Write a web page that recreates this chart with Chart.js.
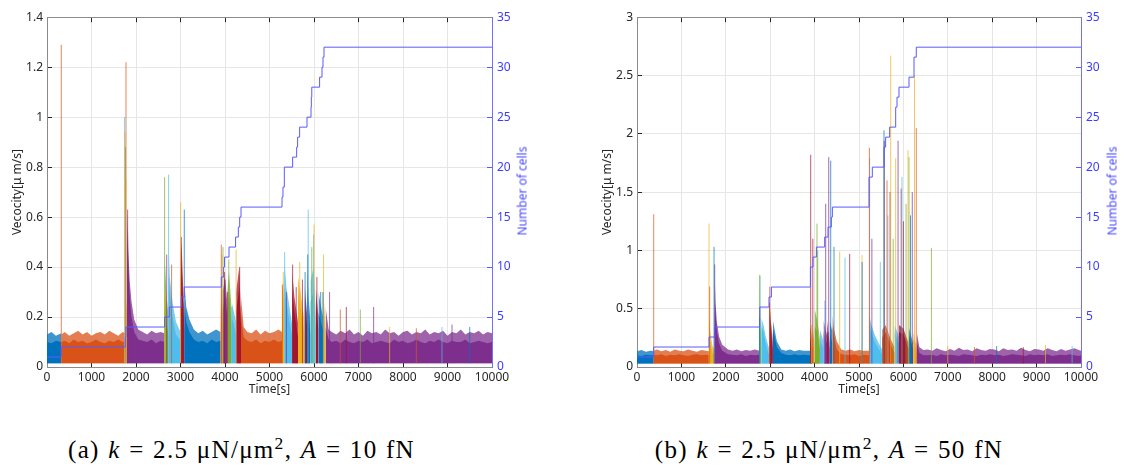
<!DOCTYPE html>
<html>
<head>
<meta charset="utf-8">
<script src="https://cdn.jsdelivr.net/npm/chart.js@4.4.1/dist/chart.umd.min.js"></script>
<style>
  body { margin: 0; background: #fff; width: 1121px; height: 468px; overflow: hidden; position: relative; font-family: "Noto Sans", sans-serif; }
  canvas { position: absolute; top: 0; }
  #chartA { left: 0; }
  #chartB { left: 590px; }
  .rtitle { position: absolute; color: #4a4aff; font-size: 12px; white-space: nowrap; transform: translate(-50%, -50%) rotate(-90deg); }
  .cap { position: absolute; top: 437px; width: 483px; text-align: center; font-family: "Liberation Serif", serif; font-size: 25px; line-height: 25px; letter-spacing: 1.3px; word-spacing: 1px; color: #000; white-space: nowrap; }
  .cap sup { font-size: 0.7em; line-height: 0; vertical-align: 0.5em; }
</style>
</head>
<body>
<canvas id="chartA" width="532" height="400"></canvas>
<canvas id="chartB" width="531" height="400"></canvas>
<div class="rtitle" style="left:521.5px;top:191px">Number of cells</div>
<div class="rtitle" style="left:1111.5px;top:191px">Number of cells</div>
<div class="cap" style="left:0">(a) <i>k</i> = 2.5 μN/μm<sup>2</sup>, <i>A</i> = 10 fN</div>
<div class="cap" style="left:587.5px">(b) <i>k</i> = 2.5 μN/μm<sup>2</sup>, <i>A</i> = 50 fN</div>
<script>
// matlab default line colours, one per cell series
const seriesColors = ["#0072BD", "#D95319", "#EDB120", "#7E2F8E", "#77AC30", "#4DBEEE", "#A2142F"];

// ---------- (a) A = 10 fN ----------
const cellsTimeA = [0, 321, 1760, 1775, 2643, 2748, 3018, 3085, 3917, 3970,
  3990, 4090, 4238, 4300, 4330, 4360, 5281, 5303, 5333, 5520,
  5610, 5632, 5677, 5843, 5933, 5940, 5950, 6126, 6180, 6202,
  6225, 10000];
const cellsCountA = [1, 2, 3, 4, 5, 6, 7, 8, 9, 10,
  11, 12, 13, 14, 15, 16, 17, 18, 20, 21,
  22, 23, 24, 25, 26, 27, 28, 29, 30, 31,
  32, 32];

// noise band: a repeated time starts a new colour segment
const bandTimeA = [0, 100, 200, 321,
  321, 400, 500, 600, 700, 800, 900, 1000, 1100, 1200, 1300, 1400, 1500, 1600, 1700, 1760,
  1760, 1795,
  1795, 1812, 1830, 1860, 1900, 1960, 2050, 2150, 2250, 2350, 2450, 2550, 2640,
  2640, 2690, 2730,
  2730, 2760, 2820, 2900, 3000,
  3000, 3025, 3060, 3090,
  3090, 3130, 3200, 3300, 3400, 3500, 3600, 3700, 3800, 3900,
  3900, 3925, 3950,
  3950, 4000, 4050,
  4050, 4090, 4150,
  4150, 4200, 4250,
  4250, 4320, 4360,
  4360, 4420, 4500, 4600, 4700, 4800, 4900, 5000, 5100, 5200, 5281,
  5281, 5310, 5335,
  5335, 5380, 5450, 5510,
  5510, 5560, 5640,
  5640, 5700, 5790,
  5790, 5850,
  5850, 5880, 5920,
  5920, 5990, 6040,
  6040, 6100,
  6100, 6200,
  6200, 6260,
  6260, 6330, 6400, 6500, 6600, 6700, 6800, 6900, 7000, 7100, 7200, 7300, 7400, 7500,
  7600, 7700, 7800, 7900, 8000, 8100, 8200, 8300, 8400, 8500, 8600, 8700, 8800, 8900,
  9000, 9100, 9200, 9300, 9400, 9500, 9600, 9700, 9800, 9900, 10000];
const bandSolidA = [.1, .095, .105, .1,
  .1, .105, .095, .11, .1, .105, .095, .1, .11, .1, .095, .105, .1, .11, .1, .105,
  .12, .11,
  .3, .55, .4, .28, .2, .14, .11, .105, .1, .11, .095, .105, .1,
  .3, .18, .12,
  .38, .3, .2, .13, .105,
  .3, .42, .25, .15,
  .25, .18, .14, .11, .1, .105, .095, .11, .1, .105,
  .12, .28, .15,
  .22, .3, .2,
  .22, .3, .17,
  .2, .17, .13,
  .22, .32, .15,
  .2, .12, .105, .1, .11, .095, .105, .1, .11, .1, .105,
  .2, .28, .15,
  .32, .26, .18, .12,
  .3, .22, .12,
  .3, .24, .13,
  .28, .15,
  .32, .22, .13,
  .26, .3, .15,
  .26, .15,
  .22, .15,
  .26, .12,
  .16, .11, .1, .105, .095, .11, .1, .095, .105, .1, .11, .095, .1, .105,
  .1, .095, .11, .1, .105, .095, .1, .11, .1, .095, .105, .1, .11, .1,
  .095, .105, .1, .1, .11, .095, .1, .105, .1, .095, .1];
const bandTopA = [.13, .14, .125, .135,
  .13, .14, .125, .135, .145, .13, .14, .125, .135, .14, .13, .145, .135, .125, .14, .135,
  .3, .22,
  .45, .62, .46, .34, .26, .19, .15, .14, .13, .145, .135, .14, .135,
  .45, .28, .2,
  .48, .36, .26, .18, .14,
  .42, .5, .32, .2,
  .33, .24, .19, .15, .135, .145, .13, .14, .15, .14,
  .2, .36, .22,
  .3, .36, .26,
  .3, .38, .23,
  .26, .22, .18,
  .3, .4, .2,
  .28, .16, .14, .135, .15, .13, .145, .135, .14, .15, .14,
  .3, .34, .22,
  .42, .32, .24, .17,
  .38, .28, .18,
  .36, .3, .18,
  .33, .2,
  .4, .28, .18,
  .34, .4, .2,
  .32, .2,
  .3, .2,
  .32, .17,
  .24, .15, .14, .13, .145, .135, .15, .13, .14, .125, .145, .135, .14, .13,
  .15, .135, .14, .125, .14, .145, .13, .14, .135, .15, .13, .14, .135, .145,
  .125, .14, .135, .15, .13, .14, .135, .145, .13, .14, .135];
const bandSegSeriesA = [0, 1, 2, 3, 4, 5, 6, 0, 1, 3, 4, 5, 6, 1, 2, 5, 6, 2, 6, 0, 5, 6, 0, 2, 3];
const bandFloorA = 0.015;

const spikeTimeA = [321, 1740, 1750, 1765, 1770, 1775, 1812, 2643, 2655, 2690,
  2733, 2800, 3003, 3018, 3085, 3917, 3935, 3955, 3990, 4000,
  4060, 4085, 4150, 4250, 4330, 5290, 5310, 5340, 5380, 5520,
  5600, 5680, 5740, 5800, 5860, 5870, 5950, 5990, 6000, 6065,
  6150, 6200, 6215, 6350, 6591, 6726, 7041, 7340, 7700, 8300,
  8876, 9101, 9500];
const spikePeakA = [1.29, 1.0, 0.94, 0.88, 0.75, 1.22, 0.63, 0.76, 0.30, 0.45,
  0.77, 0.41, 0.66, 0.52, 0.63, 0.49, 0.45, 0.48, 0.38, 0.35,
  0.30, 0.43, 0.24, 0.47, 0.40, 0.33, 0.38, 0.46, 0.30, 0.41,
  0.32, 0.42, 0.35, 0.38, 0.45, 0.63, 0.48, 0.53, 0.57, 0.36,
  0.30, 0.30, 0.45, 0.30, 0.23, 0.24, 0.23, 0.24, 0.16, 0.155,
  0.16, 0.17, 0.16];
const spikeSeriesA = [1, 5, 2, 4, 2, 1, 3, 4, 2, 3,
  5, 1, 2, 6, 0, 1, 2, 4, 6, 3,
  6, 4, 5, 2, 6, 1, 2, 5, 3, 6,
  6, 2, 6, 0, 0, 5, 4, 5, 2, 6,
  0, 0, 2, 3, 1, 6, 4, 3, 2, 1,
  5, 3, 0];

// ---------- (b) A = 50 fN ----------
const cellsTimeB = [0, 376, 1622, 1750, 2764, 2973, 3027, 3905, 3964, 4040,
  4227, 4302, 4377, 4400, 5225, 5300, 5563, 5600, 5690, 5826,
  5856, 5901, 6126, 6239, 6290, 10000];
const cellsCountB = [1, 2, 3, 4, 6, 7, 8, 10, 11, 12,
  13, 14, 15, 16, 19, 20, 22, 23, 24, 26,
  27, 28, 29, 31, 32, 32];

const bandTimeB = [0, 100, 200, 300, 376,
  376, 450, 550, 650, 750, 850, 950, 1050, 1150, 1250, 1350, 1450, 1550, 1622,
  1622, 1650, 1700, 1750,
  1750, 1770, 1800, 1850, 1920, 2050, 2150, 2250, 2350, 2450, 2550, 2650, 2760,
  2760, 2780, 2800,
  2800, 2850, 2900, 2960, 2985,
  2985, 3020, 3060,
  3060, 3100, 3150, 3250, 3350, 3450, 3550, 3650, 3750, 3900,
  3900, 3950,
  3950, 4000,
  4000, 4060, 4120,
  4120, 4200,
  4200, 4280,
  4280, 4340,
  4340, 4400,
  4400, 4440, 4500, 4600, 4700, 4800, 4900, 5000, 5100, 5225,
  5225, 5280, 5350, 5450, 5520,
  5520, 5600, 5700, 5800,
  5800, 5900,
  5900, 6000, 6120,
  6120, 6220,
  6220, 6300,
  6300, 6360, 6450, 6550, 6650, 6750, 6850, 6950, 7050, 7150, 7250, 7350, 7450, 7550,
  7650, 7750, 7850, 7950, 8050, 8150, 8250, 8350, 8450, 8550, 8650, 8750, 8850, 8950,
  9050, 9150, 9250, 9350, 9450, 9550, 9650, 9750, 9850, 9950, 10000];
const bandSolidB = [.1, .095, .105, .1, .1,
  .105, .1, .11, .095, .105, .1, .11, .1, .095, .105, .11, .1, .105, .1,
  .3, .2, .12, .1,
  .6, .45, .3, .2, .14, .11, .105, .1, .11, .095, .105, .1, .105,
  .5, .3, .15,
  .35, .3, .2, .12, .105,
  .45, .3, .15,
  .33, .26, .17, .12, .105, .1, .11, .1, .105, .1,
  .25, .15,
  .3, .13,
  .35, .3, .15,
  .24, .15,
  .3, .2,
  .3, .15,
  .3, .2,
  .35, .25, .15, .11, .105, .1, .11, .095, .105, .1,
  .35, .3, .22, .15, .11,
  .25, .3, .2, .12,
  .3, .2,
  .3, .28, .15,
  .28, .15,
  .25, .12,
  .22, .12, .1, .1, .105, .095, .11, .1, .105, .1, .095, .11, .105, .1, .095,
  .105, .1, .11, .1, .105, .095, .1, .11, .105, .1, .095, .11, .1, .105, .1,
  .11, .095, .1, .105, .1, .11, .1, .095, .1];
const bandTopB = [.135, .145, .13, .14, .135,
  .14, .15, .135, .145, .13, .15, .14, .135, .15, .14, .13, .145, .14, .135,
  .45, .3, .18, .14,
  .8, .55, .38, .26, .19, .15, .14, .15, .135, .145, .14, .15, .14,
  .7, .4, .22,
  .42, .36, .26, .18, .15,
  .55, .38, .22,
  .4, .32, .22, .15, .14, .15, .135, .145, .14, .14,
  .35, .24,
  .38, .2,
  .5, .4, .24,
  .32, .22,
  .4, .27,
  .4, .2,
  .4, .3,
  .45, .32, .22, .15, .14, .15, .135, .145, .14, .14,
  .45, .36, .28, .2, .15,
  .32, .36, .25, .17,
  .36, .26,
  .36, .33, .2,
  .34, .2,
  .3, .17,
  .3, .17, .145, .15, .14, .16, .145, .135, .155, .14, .165, .145, .15, .135,
  .16, .145, .14, .155, .15, .135, .16, .145, .15, .14, .165, .145, .135, .155,
  .15, .14, .16, .145, .135, .155, .14, .15, .16, .145, .14];
const bandSegSeriesB = [0, 1, 2, 3, 4, 5, 6, 0, 6, 2, 4, 5, 3, 6, 0, 1, 5, 1, 5, 6, 0, 2, 3];
const bandFloorB = 0.03;

const spikeTimeB = [376, 1622, 1637, 1735, 1750, 2760, 2764, 2770, 2985, 2990,
  3912, 3930, 3960, 4054, 4070, 4230, 4250, 4300, 4318, 4363,
  4437, 4565, 4685, 4790, 5068, 5070, 5234, 5240, 5290, 5480,
  5563, 5568, 5631, 5650, 5700, 5714, 5770, 5826, 5880, 5950,
  5968, 6000, 6060, 6104, 6126, 6160, 6200, 6250, 6290, 6631,
  7000, 7600, 8100, 8700, 9200, 9800];
const spikePeakB = [1.31, 1.23, 0.69, 1.03, 0.88, 0.43, 0.79, 0.78, 0.55, 0.69,
  1.82, 0.36, 1.10, 1.23, 1.00, 0.57, 1.40, 0.30, 1.80, 1.77,
  1.03, 0.99, 0.94, 0.97, 0.96, 0.90, 1.88, 1.79, 1.10, 0.90,
  2.03, 1.94, 1.60, 1.30, 1.50, 2.67, 1.10, 1.79, 1.94, 1.53,
  1.63, 1.25, 1.40, 1.86, 1.80, 1.30, 1.50, 2.50, 2.05, 1.02,
  0.18, 0.17, 0.18, 0.17, 0.19, 0.18];
const spikeSeriesB = [1, 2, 1, 0, 3, 0, 4, 5, 6, 1,
  6, 2, 6, 4, 4, 5, 3, 6, 3, 0,
  0, 2, 5, 6, 2, 0, 1, 5, 3, 5,
  0, 6, 1, 5, 6, 2, 4, 2, 3, 6,
  5, 6, 4, 2, 4, 0, 3, 2, 1, 4,
  2, 1, 0, 6, 2, 5];

function rgba(hex, a) {
  const n = parseInt(hex.slice(1), 16);
  return "rgba(" + (n >> 16) + "," + ((n >> 8) & 255) + "," + (n & 255) + "," + a + ")";
}

function buildDatasets(d) {
  const sets = [];
  // step line of the cell count, on top
  sets.push({
    data: d.cellsT.map((t, i) => ({ x: t, y: d.cellsN[i] })),
    yAxisID: "y2", xAxisID: "x", stepped: true,
    borderColor: "#5a5aff", borderWidth: 1, fill: false, order: 0,
  });

  // spikes grouped by colour
  seriesColors.forEach((c, s) => {
    const pts = [];
    d.spikeT.forEach((t, i) => {
      if (d.spikeS[i] !== s) return;
      pts.push({ x: t, y: d.floor }, { x: t, y: d.spikeV[i] }, { x: t, y: null });
    });
    if (pts.length) {
      sets.push({
        data: pts, yAxisID: "y", xAxisID: "x",
        borderColor: rgba(c, 0.7), borderWidth: 1, fill: false, spanGaps: false, order: 1,
      });
    }
  });

  // band segments
  let seg = 0, start = 0;
  for (let i = 1; i <= d.bandT.length; i++) {
    if (i === d.bandT.length || d.bandT[i] === d.bandT[i - 1]) {
      const c = seriesColors[d.bandS[seg]];
      const solid = [], top = [];
      for (let k = start; k < i; k++) {
        solid.push({ x: d.bandT[k], y: d.bandLo[k] });
        top.push({ x: d.bandT[k], y: d.bandHi[k] });
      }
      sets.push({ data: solid, yAxisID: "y", xAxisID: "x", borderWidth: 0, borderColor: c,
        backgroundColor: c, fill: { value: d.floor }, order: 2 });
      sets.push({ data: top, yAxisID: "y", xAxisID: "x", borderWidth: 0, borderColor: c,
        backgroundColor: rgba(c, 0.75), fill: { value: d.floor }, order: 3 });
      seg++;
      start = i;
    }
  }
  return sets;
}

const tickFont = { family: '"Noto Sans", sans-serif', size: 12 };
const axisGray = "#262626";
const plainNum = (v) => String(Math.round(v * 100) / 100);

function makeChart(id, d) {
  new Chart(document.getElementById(id), {
    type: "line",
    data: { datasets: buildDatasets(d) },
    options: {
      responsive: false,
      animation: false,
      devicePixelRatio: 1,
      events: [],
      layout: { padding: { top: 16, left: 0, right: 0, bottom: 0 } },
      elements: { point: { radius: 0 }, line: { tension: 0 } },
      plugins: { legend: { display: false }, tooltip: { enabled: false } },
      scales: {
        x: {
          type: "linear", position: "bottom", min: 0, max: 10000,
          ticks: { stepSize: 1000, callback: plainNum, color: axisGray, font: tickFont, padding: 8, maxRotation: 0, autoSkip: false },
          grid: { color: "#e6e6e6", tickLength: -5, tickColor: axisGray },
          border: { color: "#8a8a8a" },
          title: { display: true, text: "Time[s]", color: axisGray, font: tickFont, padding: { top: 0, bottom: 3 } },
          afterFit: (s) => { s.height = 33; },
        },
        x2: {
          type: "linear", position: "top", min: 0, max: 10000,
          ticks: { stepSize: 1000, display: false },
          grid: { drawOnChartArea: false, tickLength: -5, tickColor: axisGray },
          border: { color: "#8a8a8a" },
          afterFit: (s) => { s.height = 0; },
        },
        y: {
          type: "linear", position: "left", min: 0, max: d.vMax,
          ticks: { stepSize: d.vStep, callback: plainNum, color: axisGray, font: tickFont, padding: 9 },
          grid: { color: "#e6e6e6", tickLength: -5, tickColor: axisGray },
          border: { color: "#8a8a8a" },
          title: { display: true, text: "Vecocity[μ m/s]", color: axisGray, font: tickFont, padding: { top: 10, bottom: 0 } },
          afterFit: (s) => { s.width = 47; },
        },
        y2: {
          type: "linear", position: "right", min: 0, max: 35,
          ticks: { stepSize: 5, callback: plainNum, color: "#3c3cff", font: tickFont, padding: 10 },
          grid: { drawOnChartArea: false, tickLength: -5, tickColor: "#5a5aff" },
          border: { color: "#7070ff" },
          afterFit: (s) => { s.width = d.rightW; },
        },
      },
    },
  });
}

makeChart("chartA", {
  cellsT: cellsTimeA, cellsN: cellsCountA,
  bandT: bandTimeA, bandLo: bandSolidA, bandHi: bandTopA, bandS: bandSegSeriesA, floor: bandFloorA,
  spikeT: spikeTimeA, spikeV: spikePeakA, spikeS: spikeSeriesA,
  vMax: 1.4, vStep: 0.2, rightW: 40,
});
makeChart("chartB", {
  cellsT: cellsTimeB, cellsN: cellsCountB,
  bandT: bandTimeB, bandLo: bandSolidB, bandHi: bandTopB, bandS: bandSegSeriesB, floor: bandFloorB,
  spikeT: spikeTimeB, spikeV: spikePeakB, spikeS: spikeSeriesB,
  vMax: 3, vStep: 0.5, rightW: 40,
});
</script>
</body>
</html>
